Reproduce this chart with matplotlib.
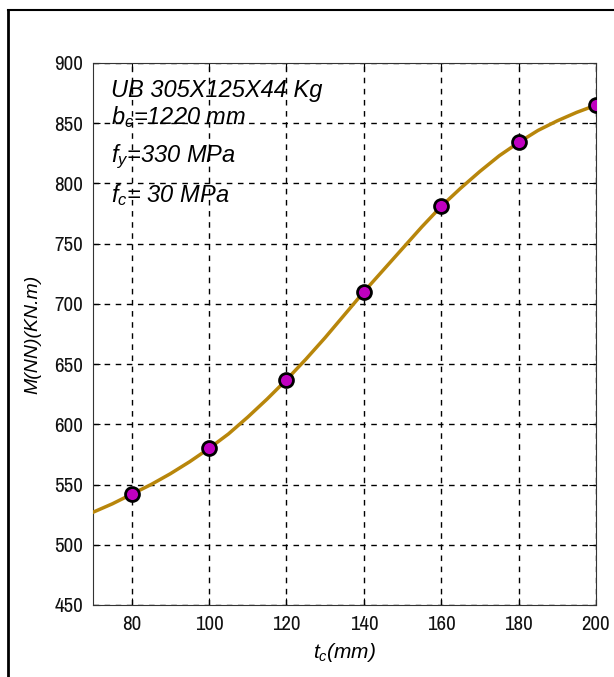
import numpy as np
import matplotlib
matplotlib.use('Agg')
import matplotlib.pyplot as plt
from matplotlib.lines import Line2D
from matplotlib import font_manager

names = sorted(set(f.name for f in font_manager.fontManager.ttflist))
narrow = [n for n in names if 'Narrow' in n or 'Condensed' in n]

plt.rcParams['font.family'] = ['Liberation Sans', 'DejaVu Sans']
plt.rcParams['mathtext.fontset'] = 'custom'
plt.rcParams['mathtext.it'] = 'Liberation Sans:italic'
plt.rcParams['mathtext.rm'] = 'Liberation Sans'

# data
tc = [80, 100, 120, 140, 160, 180, 200]
moment = [542, 580, 637, 710, 781, 834, 865]

# fitted curve
curve_tc = [70, 75, 80, 85, 90, 95, 100, 105, 110, 115, 120, 125, 130, 135,
            140, 145, 150, 155, 160, 165, 170, 175, 180, 185, 190, 195, 200]
curve_m = [527, 534, 542, 550, 559, 569, 580, 592, 606, 621, 637, 654, 672, 691,
           710, 728, 746, 764, 781, 796, 810, 823, 834, 844, 852, 859, 865]

fig = plt.figure(figsize=(6.14, 6.77), dpi=100)
ax = fig.add_axes([93 / 614, 1 - 605 / 677, (596 - 93) / 614, (605 - 63) / 677])

ax.plot(curve_tc, curve_m, color='#b8860b', lw=2.5, zorder=3)
ax.plot(tc, moment, 'o', ms=10, mfc='#c000c0', mec='black', mew=2, zorder=4)

ax.set_xlim(70, 200)
ax.set_ylim(450, 900)
ax.set_xticks(range(80, 201, 20))
ax.set_yticks(range(450, 901, 50))
ax.tick_params(direction='in', top=True, right=True, labelsize=15, length=5, pad=7)
for lab in ax.get_xticklabels() + ax.get_yticklabels():
    lab.set_fontstretch('condensed')
    lab.set_family(narrow + ['Liberation Sans'] if narrow else ['Liberation Sans'])
    lab.set_color('#111111')
    lab.set_weight('medium')
ax.grid(True, color='black', ls=(0, (4, 4)), lw=1)
for s in ax.spines.values():
    s.set_color('#333333')

ax.set_xlabel(r'$t_c$(mm)', fontsize=15, style='italic', labelpad=5)
ax.set_ylabel('M(NN)(KN.m)', fontsize=14, style='italic', labelpad=9)

lines = ['UB 305X125X44 Kg', r'$b_c$=1220 mm', r'$f_y$=330 MPa', r'$f_c$= 30 MPa']
ypos = [0.950, 0.900, 0.827, 0.756]
for txt, yy in zip(lines, ypos):
    ax.text(0.035, yy, txt, transform=ax.transAxes, fontsize=17,
            style='italic', va='center', ha='left')

# outer frame (left and top only)
fig.add_artist(Line2D([8 / 614, 8 / 614], [0, 1 - 10 / 677], color='black', lw=2,
                      transform=fig.transFigure))
fig.add_artist(Line2D([8 / 614, 1], [1 - 10 / 677, 1 - 10 / 677], color='black', lw=1.5,
                      transform=fig.transFigure))

fig.savefig('out.png', dpi=100)
